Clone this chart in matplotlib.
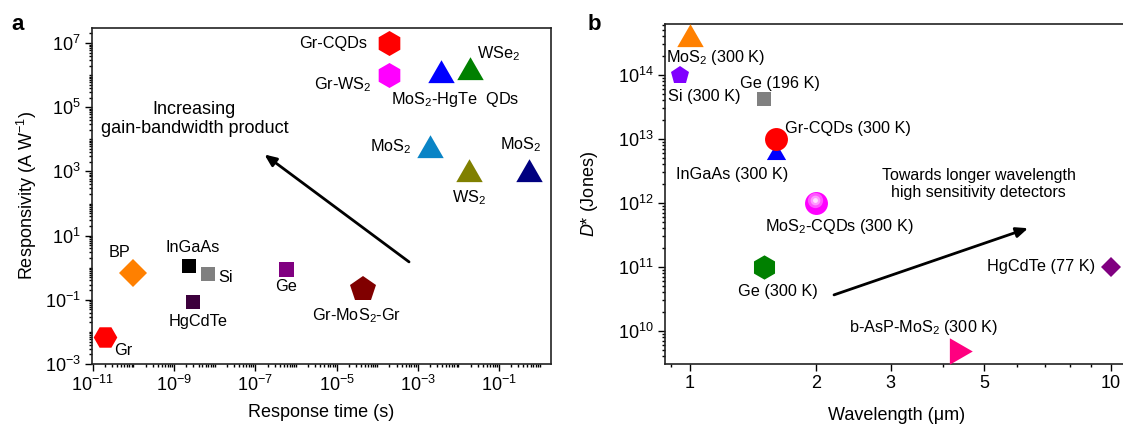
import numpy as np
import matplotlib
matplotlib.use("Agg")
import matplotlib.pyplot as plt
from matplotlib.ticker import FixedLocator, LogLocator, NullFormatter, FixedFormatter

plt.rcParams['font.family'] = ['Liberation Sans', 'DejaVu Sans']
plt.rcParams['mathtext.fontset'] = 'custom'
plt.rcParams['mathtext.rm'] = 'Liberation Sans'
plt.rcParams['mathtext.it'] = 'Liberation Sans:italic'
plt.rcParams['mathtext.bf'] = 'Liberation Sans:bold'

# ---------------- panel a data: response time vs responsivity ----------------
a_names = ["Gr-CQDs", "Gr-WS2", "MoS2-HgTe QDs", "WSe2", "MoS2 (blue)", "WS2", "MoS2 (navy)",
           "BP", "InGaAs", "Si", "HgCdTe", "Ge", "Gr-MoS2-Gr", "Gr"]
a_time = [2.0e-4, 2.0e-4, 3.7e-3, 1.95e-2, 1.95e-3, 1.86e-2, 0.56,
          9.5e-11, 2.3e-9, 6.9e-9, 2.95e-9, 5.6e-7, 4.6e-5, 1.95e-11]
a_resp = [1.0e7, 1.0e6, 1.0e6, 1.25e6, 4.8e3, 8.5e2, 8.5e2,
          0.7, 1.17, 0.66, 0.083, 0.93, 0.22, 6.8e-3]
a_colors = ["#ff0000", "#ff00ff", "#0000ff", "#008000", "#0a84c6", "#808000", "#000080",
            "#ff8000", "#000000", "#808080", "#3c003c", "#800080", "#800000", "#ff0000"]
a_markers = ["h", "h", "tri", "tri", "tri", "tri", "tri",
             "D", "s", "s", "s", "s", "p", "H"]
a_sizes = [18, 18, 22, 22, 22, 22, 22, 14, 10.5, 10.5, 10.5, 10.8, 19, 17]

a_labels = ["Gr-CQDs", "Gr-WS$_2$", "MoS$_2$-HgTe  QDs", "WSe$_2$", "MoS$_2$", "WS$_2$", "MoS$_2$",
            "BP", "InGaAs", "Si", "HgCdTe", "Ge", "Gr-MoS$_2$-Gr", "Gr"]
a_lab_x = [10**-4.24, 10**-4.85, 10**-2.08, 10**-1.0, 10**-3.66, 10**-1.73, 10**-0.46,
           10**-10.34, 10**-8.54, 10**-7.74, 10**-8.40, 10**-6.25, 10**-4.5, 10**-10.24]
a_lab_y = [1.0e7, 10**5.7, 10**5.23, 10**6.66, 10**3.77, 10**2.19, 10**3.83,
           10**0.47, 10**0.63, 10**-0.3, 10**-1.67, 10**-0.6, 10**-1.48, 10**-2.57]
a_lab_ha = ["right", "center", "center", "center", "center", "center", "center",
            "center", "center", "center", "center", "center", "center", "center"]

# ---------------- panel b data: wavelength vs detectivity ----------------
b_names = ["MoS2 (300 K)", "Si (300 K)", "Ge (196 K)", "InGaAs (300 K)", "Gr-CQDs (300 K)",
           "MoS2-CQDs (300 K)", "Ge (300 K)", "HgCdTe (77 K)", "b-AsP-MoS2 (300 K)"]
b_wl = [1.0, 0.95, 1.5, 1.6, 1.6, 2.0, 1.5, 10.0, 4.31]
b_det = [3.7e14, 1.0e14, 4.2e13, 5.9e12, 1.0e13, 1.0e12, 1.0e11, 1.0e11, 4.8e9]
b_colors = ["#ff8000", "#8000ff", "#808080", "#0000ff", "#ff0000",
            "#ff00ff", "#008000", "#800080", "#ff0080"]
b_markers = ["tri", "p", "s", "tri", "o", "sphere", "h", "D", "tri_r"]
b_sizes = [22, 13.6, 10.5, 16, 16.5, 16.5, 17.5, 10, 22]

b_labels = ["MoS$_2$ (300 K)", "Si (300 K)", "Ge (196 K)", "InGaAs (300 K)", "Gr-CQDs (300 K)",
            "MoS$_2$-CQDs (300 K)", "Ge (300 K)", "HgCdTe (77 K)", "b-AsP-MoS$_2$ (300 K)"]
b_lab_x = [1.15, 1.085, 1.64, 1.26, 1.68, 2.27, 1.62, 9.17, 3.6]
b_lab_y = [10**14.27, 10**13.66, 10**13.86, 10**12.45, 10**13.16, 10**11.64, 10**10.62, 1.0e11, 10**10.06]
b_lab_ha = ["center", "center", "center", "center", "left", "center", "center", "right", "center"]

# custom equilateral triangles
TRI_UP = [(0, 1.155), (-1, -0.577), (1, -0.577)]
TRI_RIGHT = [(1.155, 0), (-0.577, 1), (-0.577, -1)]


def get_marker(m):
    if m == "tri":
        return TRI_UP
    if m == "tri_r":
        return TRI_RIGHT
    return m


fig = plt.figure(figsize=(11.23, 4.24), dpi=100)
ax_a = fig.add_axes([92 / 1123, 60 / 424, 459 / 1123, 336 / 424])
ax_b = fig.add_axes([665 / 1123, 60 / 424, 463 / 1123, 340 / 424])

for ax in (ax_a, ax_b):
    ax.set_xscale("log")
    ax.set_yscale("log")
    for s in ax.spines.values():
        s.set_linewidth(1.2)
        s.set_color("#222222")
    ax.tick_params(which="both", direction="out", top=False, right=False, labelsize=13, width=1)
    ax.tick_params(which="major", length=5, pad=3)
    ax.tick_params(which="minor", length=2.5)

# ---------------- panel a ----------------
for x, y, c, m, s in zip(a_time, a_resp, a_colors, a_markers, a_sizes):
    ax_a.plot([x], [y], linestyle="none", marker=get_marker(m), ms=s, color=c, mew=0, zorder=3)
for t, x, y, ha in zip(a_labels, a_lab_x, a_lab_y, a_lab_ha):
    ax_a.text(x, y, t, ha=ha, va="center", fontsize=11.7)
ax_a.text(10**-8.5, 10**4.64, "Increasing\ngain-bandwidth product", ha="center", va="center",
          fontsize=13, linespacing=1.15)
ax_a.annotate("", xy=(10**-6.83, 10**3.58), xytext=(10**-3.16, 10**0.13),
              arrowprops=dict(arrowstyle="-|>,head_length=0.7,head_width=0.3", color="black", lw=2))

ax_a.set_xlim(10**-11.02, 10**0.28)
ax_a.set_ylim(1e-3, 10**7.47)
ax_a.xaxis.set_major_locator(FixedLocator([1e-11, 1e-9, 1e-7, 1e-5, 1e-3, 1e-1]))
ax_a.xaxis.set_minor_locator(LogLocator(base=10, subs=np.arange(1, 10), numticks=100))
ax_a.xaxis.set_minor_formatter(NullFormatter())
ax_a.yaxis.set_major_locator(FixedLocator([1e-3, 1e-1, 1e1, 1e3, 1e5, 1e7]))
ax_a.yaxis.set_minor_locator(LogLocator(base=10, subs=np.arange(1, 10), numticks=100))
ax_a.yaxis.set_minor_formatter(NullFormatter())
ax_a.set_xlabel("Response time (s)", fontsize=13, va="center")
ax_a.set_ylabel("Responsivity (A W$^{-1}$)", fontsize=13, va="center")
ax_a.xaxis.set_label_coords(0.5, -0.143)
ax_a.yaxis.set_label_coords(-0.1416, 0.5)

# ---------------- panel b ----------------
for x, y, c, m, s in zip(b_wl, b_det, b_colors, b_markers, b_sizes):
    if m == "sphere":
        ax_b.plot([x], [y], linestyle="none", marker="o", ms=s, color=c, mew=0, zorder=3)
        for k, (ms, col) in enumerate([(11, "#ff55ff"), (7, "#ff99ff"), (3.5, "#ffe0ff")]):
            ax_b.plot([x * 0.99], [y * 1.12], linestyle="none", marker="o", ms=ms,
                      color=col, mew=0, zorder=4 + k)
    else:
        ax_b.plot([x], [y], linestyle="none", marker=get_marker(m), ms=s, color=c, mew=0,
                  zorder=3, clip_on=False)
for t, x, y, ha in zip(b_labels, b_lab_x, b_lab_y, b_lab_ha):
    ax_b.text(x, y, t, ha=ha, va="center", fontsize=11.7)
ax_b.text(4.86, 10**12.3, "Towards longer wavelength\nhigh sensitivity detectors", ha="center",
          va="center", fontsize=11.5, linespacing=1.15)
ax_b.annotate("", xy=(6.46, 10**11.62), xytext=(2.17, 10**10.55),
              arrowprops=dict(arrowstyle="-|>,head_length=0.7,head_width=0.3", color="black", lw=2))

ax_b.set_xlim(0.873, 11.0)
ax_b.set_ylim(10**9.484, 10**14.797)
ax_b.xaxis.set_major_locator(FixedLocator([1, 2, 3, 5, 10]))
ax_b.xaxis.set_major_formatter(FixedFormatter(["1", "2", "3", "5", "10"]))
ax_b.xaxis.set_minor_locator(FixedLocator([0.9, 4, 6, 7, 8, 9]))
ax_b.xaxis.set_minor_formatter(NullFormatter())
ax_b.yaxis.set_major_locator(FixedLocator([1e10, 1e11, 1e12, 1e13, 1e14]))
ax_b.yaxis.set_minor_locator(LogLocator(base=10, subs=np.arange(2, 10), numticks=100))
ax_b.yaxis.set_minor_formatter(NullFormatter())
ax_b.set_xlabel("Wavelength (\u03bcm)", fontsize=13, va="center")
ax_b.set_ylabel("$D$* (Jones)", fontsize=13, va="center")
ax_b.xaxis.set_label_coords(0.5, -0.15)
ax_b.yaxis.set_label_coords(-0.162, 0.5)

fig.text(18 / 1123, 1 - 25 / 424, "a", fontsize=16, fontweight="bold", ha="center", va="center")
fig.text(594 / 1123, 1 - 25 / 424, "b", fontsize=16, fontweight="bold", ha="center", va="center")

fig.savefig("out.png", dpi=100)
